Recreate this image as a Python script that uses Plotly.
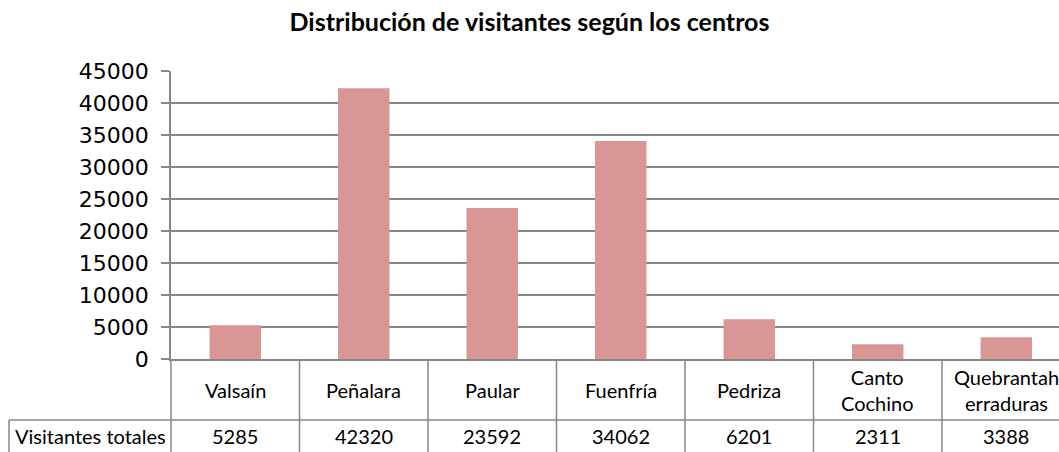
import plotly.graph_objects as go

# ---- data ----
categories = ["Valsaín", "Peñalara", "Paular", "Fuenfría", "Pedriza", "Canto Cochino", "Quebrantaherraduras"]
table_labels = ["Valsaín", "Peñalara", "Paular", "Fuenfría", "Pedriza", "Canto<br>Cochino", "Quebrantah<br>erraduras"]
visitantes = [5285, 42320, 23592, 34062, 6201, 2311, 3388]
series_name = "Visitantes totales"
title_text = "Distribución de visitantes según los centros"
y_ticks = [0, 5000, 10000, 15000, 20000, 25000, 30000, 35000, 40000, 45000]

# ---- layout geometry (pixels) ----
W, H = 1059, 452
ML, MR, MT, MB = 171, 0, 71, 93
plot_w = W - ML - MR
plot_h = H - MT - MB
cat_px = 128.5
x_min = -0.5
x_max = x_min + plot_w / cat_px
row1_px = 61          # category row height
header_left_px = 9    # left edge of the row-header cell

GRID = "#878787"
BAR = "#D99694"
TXT_FONT = "Lato"
TXT_SIZE = 20

xs = list(range(len(categories)))

fig = go.Figure()
fig.add_trace(go.Bar(
    x=xs, y=visitantes, name=series_name, width=0.4,
    marker=dict(color=BAR, line=dict(width=0)),
    hovertext=categories,
))

def xp(v):
    return (v - x_min) / (x_max - x_min)

row_split = -row1_px / plot_h
bottom = -MB / plot_h - 0.05
left_hdr = -(ML - header_left_px) / plot_w

shapes = []
for i in range(len(categories) + 1):
    shapes.append(dict(type="line", xref="paper", yref="paper",
                       x0=xp(i - 0.5), x1=xp(i - 0.5), y0=0, y1=bottom,
                       line=dict(color=GRID, width=1.5)))
shapes.append(dict(type="line", xref="paper", yref="paper",
                   x0=left_hdr, x1=1.05, y0=row_split, y1=row_split,
                   line=dict(color=GRID, width=1.5)))
shapes.append(dict(type="line", xref="paper", yref="paper",
                   x0=left_hdr, x1=left_hdr, y0=row_split, y1=bottom,
                   line=dict(color=GRID, width=1.5)))

annotations = []
row1_c = -(row1_px / 2) / plot_h
row2_c = -(row1_px + (MB - row1_px) / 2) / plot_h
for i, (lab, v) in enumerate(zip(table_labels, visitantes)):
    annotations.append(dict(x=xp(i), y=row1_c, xref="paper", yref="paper",
                            text=lab, showarrow=False, xanchor="center", yanchor="middle",
                            font=dict(family=TXT_FONT, size=TXT_SIZE, color="black")))
    annotations.append(dict(x=xp(i), y=row2_c, xref="paper", yref="paper",
                            text=str(v), showarrow=False, xanchor="center", yanchor="middle",
                            font=dict(family=TXT_FONT, size=TXT_SIZE, color="black")))
annotations.append(dict(x=(left_hdr + 0) / 2, y=row2_c, xref="paper", yref="paper",
                        text=series_name, showarrow=False, xanchor="center", yanchor="middle",
                        font=dict(family=TXT_FONT, size=TXT_SIZE, color="black")))

fig.update_layout(
    width=W, height=H,
    margin=dict(l=ML, r=MR, t=MT, b=MB, pad=0),
    paper_bgcolor="white", plot_bgcolor="white",
    showlegend=False,
    title=dict(text="<b>" + title_text + "</b>", x=0.5, xanchor="center",
               y=1 - 22 / H, yanchor="middle",
               font=dict(family=TXT_FONT, size=25, color="black")),
    xaxis=dict(range=[x_min, x_max], showticklabels=False, showgrid=False,
               zeroline=False, showline=True, linecolor=GRID, linewidth=1.5,
               ticks=""),
    yaxis=dict(range=[0, 45000], tickvals=y_ticks, tickformat="d",
               showgrid=True, gridcolor=GRID,
               gridwidth=1.5, zeroline=False, showline=True, linecolor=GRID,
               linewidth=1.5, ticks="outside", ticklen=8, tickcolor=GRID, tickwidth=1.5,
               ticklabelstandoff=8,
               tickfont=dict(family="DejaVu Sans", size=22, color="black")),
    shapes=shapes,
    annotations=annotations,
    bargap=0.6,
)

fig.write_html("out.html", config={"displayModeBar": False},
               post_script="document.body.style.margin='0';document.body.style.overflow='hidden';")
